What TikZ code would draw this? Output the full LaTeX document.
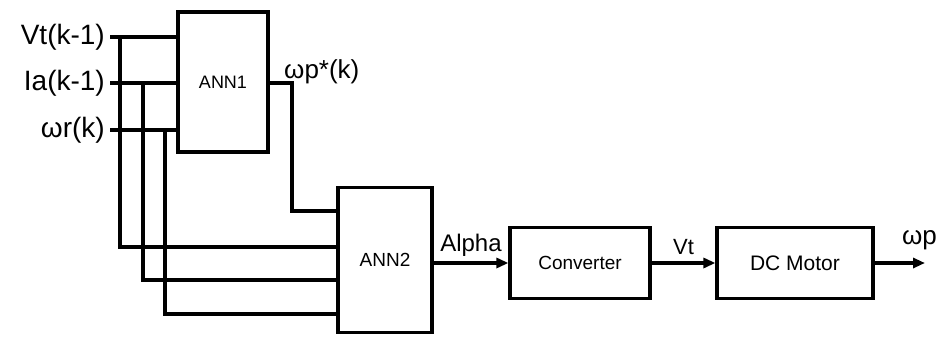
\documentclass[tikz,border=0pt]{standalone}
\usepackage{fontspec}
\setmainfont{Liberation Sans}
\usetikzlibrary{arrows.meta,positioning}
\tikzset{
    blk/.style={draw, line width=3.2pt, minimum width=#1, inner sep=0pt, font=\fontsize{18}{18}\selectfont},
    wire/.style={line width=3.2pt},
    sig/.style={line width=3.2pt, -{Triangle[length=12pt,width=10pt]}},
    lab/.style={inner sep=0pt, font=\fontsize{28}{28}\selectfont}
}
\begin{document}
\begin{tikzpicture}[x=1pt, y=-1pt]
    \useasboundingbox (0,0) rectangle (937,338);
    % blocks
    \node[blk=90pt, minimum height=140pt] (ann1) at (223,82) {ANN1};
    \node[blk=94pt, minimum height=145pt, font=\fontsize{19}{19}\selectfont] (ann2) at (385,260) {ANN2};
    \node[blk=140pt, minimum height=71pt, font=\fontsize{19}{19}\selectfont] (conv) at (580,263) {Converter};
    \node[blk=156pt, minimum height=71pt, font=\fontsize{21}{21}\selectfont] (motor) at (795,263) {DC Motor};
    % inputs and their branches down to ANN2
    \foreach \i/\txt/\y/\bx/\by in {1/Vt(k-1)/37/120/247, 2/Ia(k-1)/83/143/280, 3/ωr(k)/130/165/314} {
        \node[lab, anchor=east] (in\i) at (105,\y) {\txt};
        \coordinate (s\i) at (110,\y);
        \coordinate (b\i) at (\bx,\y);
        \coordinate (e\i) at (338,\by);
        \draw[wire] (s\i) -- (ann1.west |- s\i);
        \draw[wire] (b\i) |- (e\i);
    }
    % ANN1 output to ANN2
    \coordinate (k1) at (292,83);
    \coordinate (k2) at (338,211);
    \draw[wire] (ann1.east |- k1) -- (k1) |- (k2);
    \node[lab, font=\fontsize{26}{26}\selectfont, anchor=south west] (wp1) at (284,84) {ωp*(k)};
    % forward path
    \draw[sig] (ann2.east |- conv.west) -- node[lab, font=\fontsize{24}{24}\selectfont, above=5pt] (alpha) {Alpha} (conv.west);
    \draw[sig] (conv) -- node[lab, font=\fontsize{22}{22}\selectfont, above=7pt] (vt) {Vt} (motor);
    \coordinate (out) at (925,263);
    \draw[sig] (motor) -- (out);
    \node[lab, font=\fontsize{26}{26}\selectfont, anchor=south east] (wp2) at (937,250) {ωp};
\end{tikzpicture}
\end{document}
